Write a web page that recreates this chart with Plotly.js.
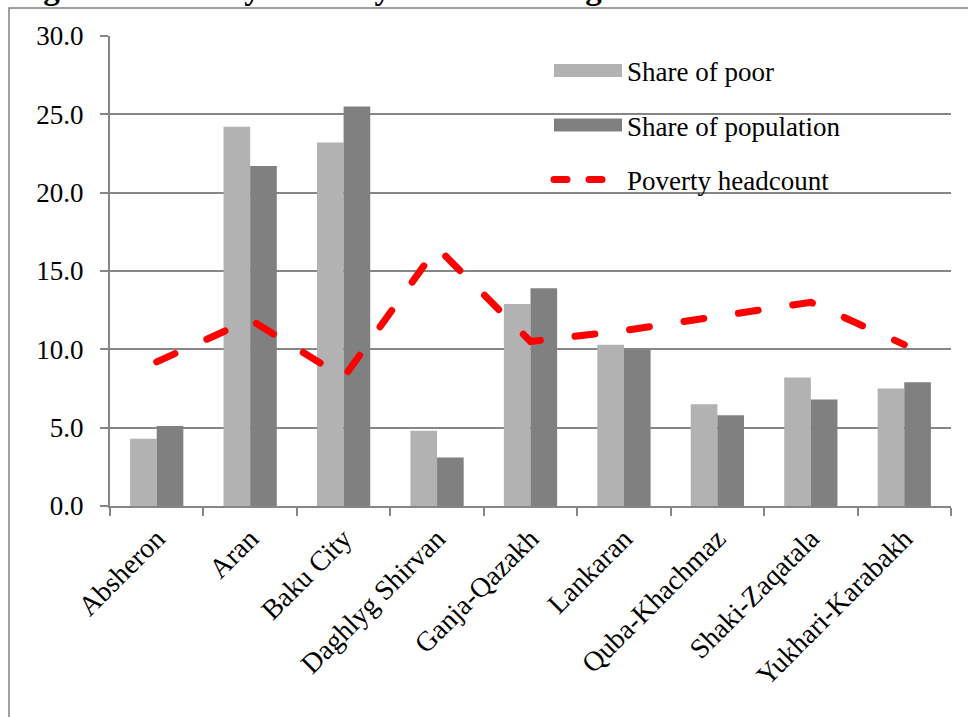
<!DOCTYPE html>
<html><head><meta charset="utf-8">
<script src="https://cdn.plot.ly/plotly-3.0.1.min.js"></script>
<style>
html,body{margin:0;padding:0;background:#fff;}
#chart{width:968px;height:717px;}
.scatterlayer .js-line{stroke-linecap:round;}
.legendlines path{stroke-linecap:round; stroke-dasharray:13px,22px !important;}
</style></head><body><div id="chart"></div>
<script>
const regions = ["Absheron", "Aran", "Baku City", "Daghlyg Shirvan", "Ganja-Qazakh", "Lankaran", "Quba-Khachmaz", "Shaki-Zaqatala", "Yukhari-Karabakh"];
const shareOfPoor = [4.3, 24.2, 23.2, 4.8, 12.9, 10.3, 6.5, 8.2, 7.5];
const shareOfPopulation = [5.1, 21.7, 25.5, 3.1, 13.9, 10.0, 5.8, 6.8, 7.9];
const povertyHeadcount = [9.2, 11.9, 8.2, 16.5, 10.5, 11.2, 12.1, 13.0, 10.3];
const seriesNames = ["Share of poor", "Share of population", "Poverty headcount"];
const yTickValues = [0, 5, 10, 15, 20, 25, 30];
const titleText = "Figure 3: Poverty Rates by Economic Regions";

const serif = "Liberation Serif, Times New Roman, serif";
const axisGray = "#868686";

const traces = [
  {type: "bar", name: seriesNames[0], x: regions, y: shareOfPoor,
   marker: {color: "#b2b2b2", line: {width: 0}}, legendgroup: "a"},
  {type: "bar", name: seriesNames[1], x: regions, y: shareOfPopulation,
   marker: {color: "#808080", line: {width: 0}}, legendgroup: "b"},
  {type: "scatter", mode: "lines", name: seriesNames[2], x: regions, y: povertyHeadcount,
   line: {color: "#ff0000", width: 7, dash: "20px,35px"}, legendgroup: "c"}
];

const layout = {
  width: 968, height: 717,
  margin: {l: 110, r: 17, t: 36, b: 211},
  paper_bgcolor: "#ffffff", plot_bgcolor: "#ffffff",
  font: {family: serif, size: 27, color: "#000000"},
  barmode: "group", bargap: 0.43, bargroupgap: 0,
  showlegend: true,
  legend: {x: 0.522, y: 0.978, xanchor: "left", yanchor: "top",
           bgcolor: "rgba(0,0,0,0)", borderwidth: 0,
           font: {family: serif, size: 27, color: "#000"},
           itemwidth: 68, tracegroupgap: 16.5, traceorder: "grouped"},
  xaxis: {type: "category", showline: true, linecolor: axisGray, linewidth: 2,
          ticks: "outside", tickson: "boundaries", ticklen: 8, tickwidth: 2, tickcolor: axisGray,
          tickangle: -45, showgrid: false, zeroline: false, ticklabelstandoff: 3,
          tickfont: {family: serif, size: 28, color: "#000"}},
  yaxis: {range: [0, 30], tickvals: yTickValues, tickformat: ".1f",
          showline: true, linecolor: axisGray, linewidth: 2,
          ticks: "outside", ticklen: 8, tickwidth: 2, tickcolor: axisGray,
          showgrid: true, gridcolor: axisGray, gridwidth: 2, zeroline: false,
          ticklabelstandoff: 11,
          tickfont: {family: serif, size: 27, color: "#000"}},
  shapes: [
    {type: "rect", xref: "paper", yref: "paper", x0: -0.1201, x1: 1.1, y0: -0.6, y1: 1.0596,
     line: {color: "#808080", width: 1.5}, fillcolor: "rgba(0,0,0,0)", layer: "below"}
  ],
  annotations: [
    {text: "<b>" + titleText + "</b>", xref: "paper", yref: "paper",
     x: -0.1165, y: 1.0596, xanchor: "left", yanchor: "bottom", showarrow: false,
     font: {family: serif, size: 33, color: "#000"}}
  ]
};

function widenLegendSwatches(gd) {
  gd.querySelectorAll(".legend .legendpoints path").forEach(function (p) {
    p.setAttribute("d", "M-34,-6.5H34V6.5H-34Z");
  });
}

Plotly.newPlot("chart", traces, layout, {displayModeBar: false, staticPlot: true})
  .then(widenLegendSwatches);
</script>
</body></html>
